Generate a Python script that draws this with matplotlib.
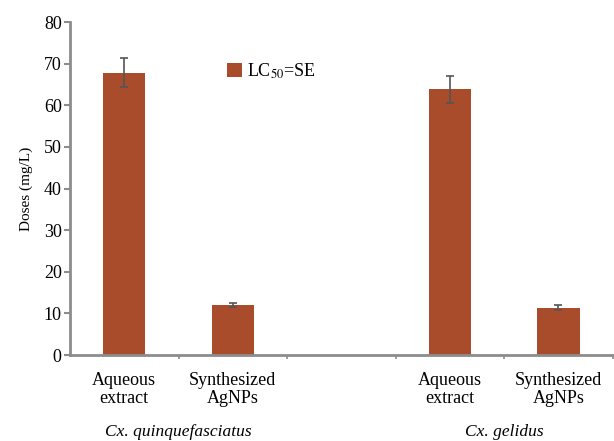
import numpy as np
import matplotlib
matplotlib.use("Agg")
from matplotlib import pyplot as plt

plt.rcParams['font.family'] = ['Liberation Serif', 'DejaVu Serif']
plt.rcParams['mathtext.fontset'] = 'stix'

species = ['Cx. quinquefasciatus', 'Cx. gelidus']
treatments = ['Aqueous\nextract', 'Synthesized\nAgNPs']
lc50 = [67.8, 12.0, 63.8, 11.3]
se = [3.5, 0.4, 3.2, 0.6]

# five slots, the middle one left empty to split the two species
pos = np.array([0, 1, 3, 4])
bar_color = '#a94c2c'
axis_gray = '#8c8c8c'
serif = 'Liberation Serif'

fig = plt.figure(figsize=(6.14, 4.41), dpi=100)
ax = fig.add_axes([0.114, 0.195, 0.884, 0.755])

ax.bar(pos, lc50, width=0.39, color=bar_color, label='LC$_{50}$=SE', zorder=2)
ax.errorbar(pos, lc50, yerr=se, fmt='none', ecolor='#555555',
            elinewidth=1.2, capsize=3, capthick=1.2, zorder=3)

ax.set_xlim(-0.5, 4.5)
ax.set_ylim(0, 80)
ax.set_yticks(range(0, 81, 10))
ax.tick_params(axis='y', labelsize=13, color=axis_gray, length=4, width=1.5, pad=2)
for lbl in ax.get_yticklabels():
    lbl.set_fontfamily(serif)

ax.set_xticks(np.arange(0.5, 4.6, 1.0))
ax.set_xticklabels([])
ax.tick_params(axis='x', color=axis_gray, length=3, width=1.2)

for side in ('top', 'right'):
    ax.spines[side].set_visible(False)
for side in ('left', 'bottom'):
    ax.spines[side].set_color(axis_gray)
    ax.spines[side].set_linewidth(2)

ax.set_ylabel('Doses (mg/L)', fontsize=11, labelpad=8, fontfamily=serif)

# treatment labels under each bar, species names below them
for i, p in enumerate(pos):
    ax.text(p, -4.2, treatments[i % 2], ha='center', va='top', fontsize=13,
            linespacing=1.05, fontfamily=serif)
for j, name in enumerate(species):
    ax.text(pos[2 * j] + 0.5, -16.6, name, ha='center', va='top', fontsize=12.5,
            style='italic', fontfamily=serif)

ax.legend(loc='upper left', bbox_to_anchor=(0.26, 0.93), frameon=False,
          prop={'family': serif, 'size': 13},
          handlelength=0.8, handleheight=0.8, handletextpad=0.3)

fig.savefig('out.png', dpi=100)
